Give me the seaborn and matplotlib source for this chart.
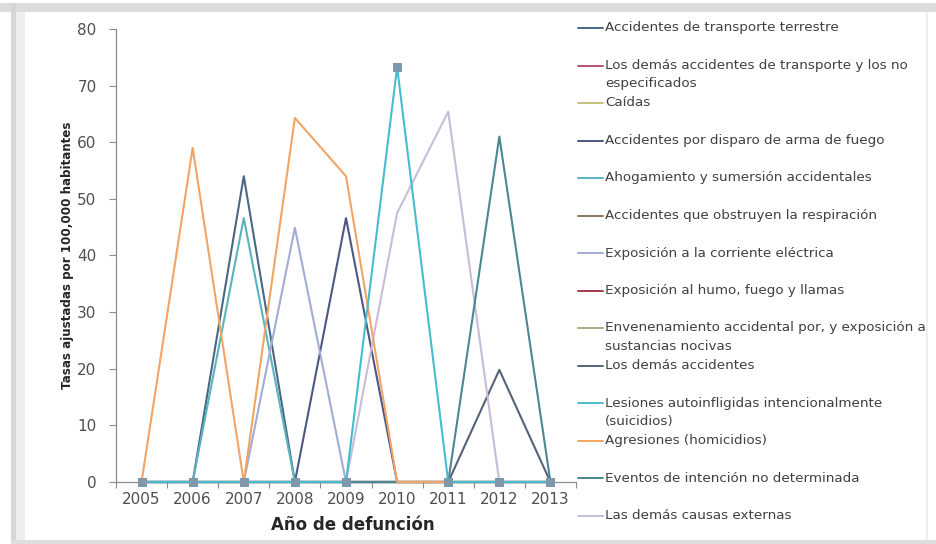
import numpy as np
import pandas as pd
import matplotlib
matplotlib.use("Agg")
import matplotlib.pyplot as plt
from matplotlib.lines import Line2D
from matplotlib.patches import Rectangle
import seaborn as sns

# ---- data -------------------------------------------------------------
years = [2005, 2006, 2007, 2008, 2009, 2010, 2011, 2012, 2013]

causes = [
    "Accidentes de transporte terrestre",
    "Los demás accidentes de transporte y los no\nespecificados",
    "Caídas",
    "Accidentes por disparo de arma de fuego",
    "Ahogamiento y sumersión accidentales",
    "Accidentes que obstruyen la respiración",
    "Exposición a la corriente eléctrica",
    "Exposición al humo, fuego y llamas",
    "Envenenamiento accidental por, y exposición a\nsustancias nocivas",
    "Los demás accidentes",
    "Lesiones autoinfligidas intencionalmente\n(suicidios)",
    "Agresiones (homicidios)",
    "Eventos de intención no determinada",
    "Las demás causas externas",
]

transporte_terrestre = [0, 0, 54.0, 0, 0, 0, 0, 0, 0]
otros_transporte = [0, 0, 0, 0, 0, 0, 0, 0, 0]
caidas = [0, 0, 0, 0, 0, 0, 0, 0, 0]
arma_fuego = [0, 0, 0, 0, 46.6, 0, 0, 0, 0]
ahogamiento = [0, 0, 46.6, 0, 0, 0, 0, 0, 0]
obstruyen_respiracion = [0, 0, 0, 0, 0, 0, 0, 0, 0]
corriente_electrica = [0, 0, 0, 44.9, 0, 0, 0, 0, 0]
humo_fuego = [0, 0, 0, 0, 0, 0, 0, 0, 0]
envenenamiento = [0, 0, 0, 0, 0, 0, 0, 0, 0]
demas_accidentes = [0, 0, 0, 0, 0, 0, 0, 19.8, 0]
suicidios = [0, 0, 0, 0, 0, 73.3, 0, 0, 0]
homicidios = [0, 59.0, 0, 64.3, 54.0, 0, 0, 0, 0]
intencion_no_determinada = [0, 0, 0, 0, 0, 0, 0, 61.0, 0]
demas_causas = [0, 0, 0, 0, 0, 47.5, 65.4, 0, 0]

series_values = [
    transporte_terrestre, otros_transporte, caidas, arma_fuego, ahogamiento,
    obstruyen_respiracion, corriente_electrica, humo_fuego, envenenamiento,
    demas_accidentes, suicidios, homicidios, intencion_no_determinada,
    demas_causas,
]

colors = [
    "#4A6784", "#B5526A", "#C2C27A", "#4C5784", "#5BB3BE", "#8A7560",
    "#A3ACD6", "#A33A4E", "#ABAA80", "#56627A", "#46BDCE", "#F2A464",
    "#4B8792", "#C7BDD8",
]

# long-form table
rows = []
for name, vals in zip(causes, series_values):
    for yr, v in zip(years, vals):
        rows.append({"cause": name, "year": yr, "rate": v})
df = pd.DataFrame(rows)

# ---- figure -----------------------------------------------------------
sns.set_theme(style="white")
plt.rcParams["font.family"] = ["DejaVu Sans"]

W, H = 936, 544
fig = plt.figure(figsize=(W / 100, H / 100), dpi=100)
fig.patch.set_facecolor("white")

# window frame around the chart
def px_rect(x0, y0, x1, y1, color):
    fig.add_artist(Rectangle((x0 / W, 1 - y1 / H), (x1 - x0) / W, (y1 - y0) / H,
                             transform=fig.transFigure, facecolor=color,
                             edgecolor="none", zorder=0))

px_rect(0, 3, W, 12, "#dcdcdc")
px_rect(11, 3, 16, H, "#d6d6d6")
px_rect(16, 12, 25, H, "#eeeeee")
px_rect(11, 540, W, H, "#dedede")
px_rect(926, 12, 928, 540, "#eeeeee")

ax = fig.add_axes([116 / W, 1 - 482 / H, (576 - 116) / W, (482 - 29) / H])
ax.set_facecolor("none")

# zero-only series first, peaked series on top, the marked series last
order = [1, 2, 5, 7, 8, 0, 3, 4, 6, 9, 13, 12, 11, 10]
for i in order:
    name = causes[i]
    sub = df[df["cause"] == name]
    marked = name.startswith("Lesiones")
    sns.lineplot(data=sub, x="year", y="rate", ax=ax, color=colors[i],
                 lw=1.5, sort=False, legend=False, clip_on=False,
                 marker="s" if marked else None,
                 markersize=5.5 if marked else 0,
                 markerfacecolor="#7F97AC", markeredgecolor="#7F97AC",
                 zorder=3 + order.index(i))

ax.set_xlim(2004.5, 2013.5)
ax.set_ylim(0, 80)
ax.set_yticks(np.arange(0, 81, 10))

# category axis: tick marks between years, labels at the years
ax.set_xticks(np.arange(2004.5, 2014, 1))
ax.set_xticklabels([])
ax.set_xticks(years, minor=True)
ax.set_xticklabels([str(y) for y in years], minor=True)

axis_grey = "#8c8c8c"
ax.tick_params(axis="x", which="major", length=4, width=0.8, color=axis_grey,
               direction="out", bottom=True)
ax.tick_params(axis="x", which="minor", length=0, pad=7, labelsize=11,
               labelcolor="#4f4f4f", bottom=True)
ax.tick_params(axis="y", length=5, width=0.8, color=axis_grey, direction="out",
               pad=9, labelsize=11, labelcolor="#4f4f4f", left=True)

for side in ("top", "right"):
    ax.spines[side].set_visible(False)
for side in ("left", "bottom"):
    ax.spines[side].set_color(axis_grey)
    ax.spines[side].set_linewidth(0.9)

ax.set_xlabel("Año de defunción", fontsize=12, fontweight="bold",
              color="#262626", labelpad=3)
ax.xaxis.set_label_coords(0.515, -0.075)
ax.set_ylabel("Tasas ajustadas por 100,000 habitantes", fontsize=8.6,
              fontweight="bold", color="#262626", labelpad=2)
ax.grid(False)

# ---- legend column ----------------------------------------------------
for k, (name, col) in enumerate(zip(causes, colors)):
    y_px = 28 + 37.5 * k
    yf = 1 - y_px / H
    fig.add_artist(Line2D([578 / W, 603 / W], [yf, yf], color=col, lw=1.4,
                          transform=fig.transFigure))
    for j, line in enumerate(name.split("\n")):
        fig.text(605 / W, 1 - (y_px + 18 * j) / H, line, fontsize=9.7,
                 color="#404040", va="center", ha="left")

fig.savefig("out.png", dpi=100, facecolor="white")
